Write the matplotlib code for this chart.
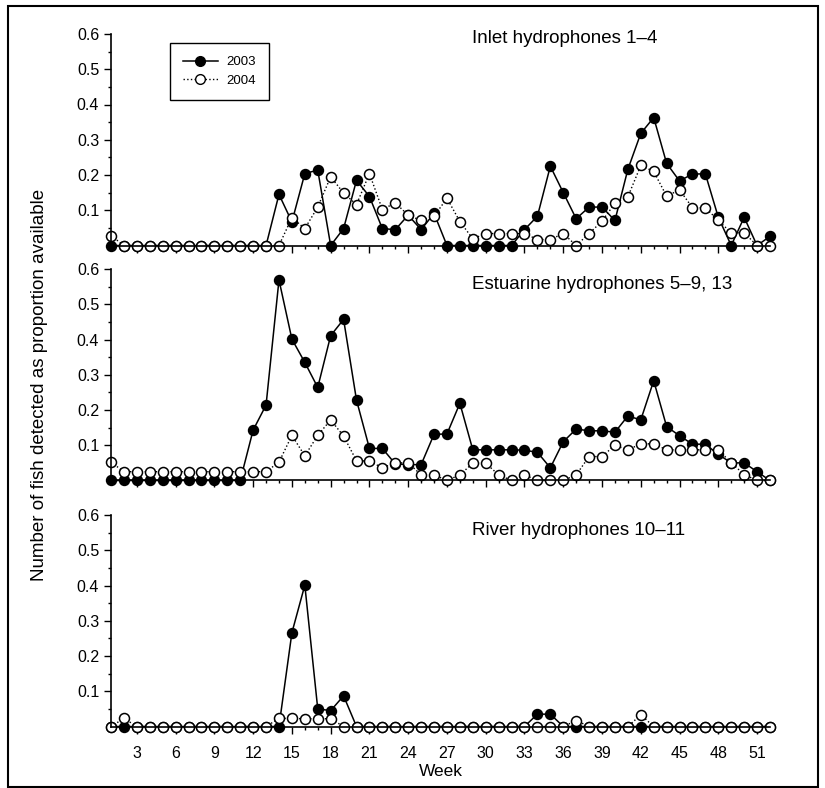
import numpy as np
import matplotlib
matplotlib.use("Agg")
import matplotlib.pyplot as plt
from matplotlib.lines import Line2D
from matplotlib.patches import Rectangle
from matplotlib.ticker import MultipleLocator, FixedLocator

plt.rcParams['font.family'] = ['Liberation Sans', 'DejaVu Sans']

weeks = list(range(1, 53))
xtick_weeks = [3, 6, 9, 12, 15, 18, 21, 24, 27, 30, 33, 36, 39, 42, 45, 48, 51]
yticks = [0.1, 0.2, 0.3, 0.4, 0.5, 0.6]
series_names = ["2003", "2004"]
panel_titles = ["Inlet hydrophones 1\u20134",
                "Estuarine hydrophones 5\u20139, 13",
                "River hydrophones 10\u201311"]

inlet_2003 = [0, 0, 0, 0, 0, 0, 0, 0, 0, 0, 0, 0, 0,
              0.145, 0.067, 0.204, 0.214, 0, 0.048, 0.185, 0.139, 0.048, 0.045,
              0.086, 0.045, 0.091, 0, 0, 0, 0, 0, 0, 0.045, 0.083, 0.225, 0.15,
              0.076, 0.109, 0.109, 0.071, 0.216, 0.318, 0.363, 0.233, 0.183,
              0.203, 0.203, 0.08, 0, 0.08, 0, 0.026]
inlet_2004 = [0.028, 0, 0, 0, 0, 0, 0, 0, 0, 0, 0, 0, 0, 0,
              0.079, 0.048, 0.109, 0.195, 0.149, 0.116, 0.204, 0.102, 0.121,
              0.086, 0.071, 0.083, 0.134, 0.068, 0.019, 0.034, 0.034, 0.034,
              0.034, 0.017, 0.017, 0.034, 0, 0.034, 0.069, 0.12, 0.138, 0.227,
              0.21, 0.14, 0.158, 0.107, 0.107, 0.071, 0.036, 0.036, 0, 0]
estuary_2003 = [0, 0, 0, 0, 0, 0, 0, 0, 0, 0, 0,
                0.143, 0.214, 0.569, 0.401, 0.335, 0.264, 0.411, 0.457, 0.228,
                0.091, 0.091, 0.047, 0.045, 0.045, 0.131, 0.132, 0.219, 0.087,
                0.087, 0.087, 0.087, 0.086, 0.08, 0.036, 0.11, 0.146, 0.141,
                0.141, 0.137, 0.183, 0.172, 0.283, 0.153, 0.127, 0.103, 0.103,
                0.074, 0.05, 0.05, 0.025, 0]
estuary_2004 = [0.052, 0.025, 0.025, 0.025, 0.025, 0.025, 0.025, 0.025, 0.025,
                0.025, 0.025, 0.025, 0.025,
                0.052, 0.128, 0.07, 0.128, 0.172, 0.126, 0.056, 0.055, 0.036,
                0.05, 0.05, 0.016, 0.016, 0, 0.016, 0.049, 0.049, 0.016, 0,
                0.016, 0, 0, 0, 0.016, 0.068, 0.068, 0.1, 0.087, 0.104, 0.104,
                0.087, 0.087, 0.087, 0.087, 0.087, 0.05, 0.017, 0, 0]
river_2003 = [0, 0, 0, 0, 0, 0, 0, 0, 0, 0, 0, 0, 0, 0,
              0.266, 0.401, 0.05, 0.045, 0.087, 0, 0, 0, 0, 0, 0, 0, 0, 0, 0,
              0, 0, 0, 0, 0.035, 0.035, 0, 0, 0, 0, 0, 0, 0, 0, 0, 0, 0, 0, 0,
              0, 0, 0, 0]
river_2004 = [0, 0.023, 0, 0, 0, 0, 0, 0, 0, 0, 0, 0, 0,
              0.023, 0.023, 0.022, 0.022, 0.022, 0, 0, 0, 0, 0, 0, 0, 0, 0, 0,
              0, 0, 0, 0, 0, 0, 0, 0, 0.017, 0, 0, 0, 0, 0.033, 0, 0, 0, 0, 0,
              0, 0, 0, 0, 0]

panels = [(inlet_2003, inlet_2004), (estuary_2003, estuary_2004),
          (river_2003, river_2004)]

W, H = 825, 788
fig = plt.figure(figsize=(W / 100, H / 100), dpi=100)

left_px, right_px = 111, 770
panel_px = [(34, 245.5), (269, 480.5), (515, 726.5)]  # (top of 0.6, zero line)

title_y = [0.586, 0.555, 0.555]
axes = []
for i, ((top, bot), (s03, s04)) in enumerate(zip(panel_px, panels)):
    ax = fig.add_axes([left_px / W, 1 - bot / H, (right_px - left_px) / W,
                       (bot - top) / H])
    axes.append(ax)
    ax.plot(weeks, s03, '-', color='black', lw=1.1, marker='o', ms=7.2,
            mfc='black', mec='black', mew=1.0, clip_on=False, zorder=2)
    ax.plot(weeks, s04, ':', color='black', lw=1.0, marker='o', ms=7.2,
            mfc='white', mec='black', mew=1.1, clip_on=False, zorder=2.1)
    ax.set_xlim(1, 52)
    ax.set_ylim(0, 0.6)
    for s in ['top', 'right']:
        ax.spines[s].set_visible(False)
    for s in ['left', 'bottom']:
        ax.spines[s].set_linewidth(1.2)
        ax.spines[s].set_zorder(3)
    ax.yaxis.set_major_locator(FixedLocator(yticks))
    ax.yaxis.set_minor_locator(MultipleLocator(0.05))
    ax.xaxis.set_major_locator(FixedLocator(xtick_weeks))
    ax.xaxis.set_minor_locator(MultipleLocator(1))
    ax.tick_params(axis='both', which='major', direction='out', length=5,
                   width=1.0, labelsize=11.5, color='black')
    ax.tick_params(axis='both', which='minor', direction='out', length=2.5,
                   width=1.0, color='black')
    ax.tick_params(axis='x', which='major', pad=9)
    ax.set_yticklabels([f"{v:.1f}" for v in yticks])
    if i < 2:
        ax.tick_params(axis='x', labelbottom=False)
    else:
        ax.set_xticklabels([str(w) for w in xtick_weeks])
        ax.set_xlabel("Week", fontsize=12.5, labelpad=2)
    ax.patch.set_alpha(0)
    ax.text(28.9, title_y[i], panel_titles[i], fontsize=13.5, ha='left',
            va='center')

handles = [Line2D([], [], ls='-', color='black', lw=1.1, marker='o', ms=7,
                  mfc='black', mec='black'),
           Line2D([], [], ls=':', color='black', lw=1.0, marker='o', ms=7,
                  mfc='white', mec='black')]
leg = fig.legend(handles, series_names, loc='upper left',
                 bbox_to_anchor=(170 / W, 1 - 43 / H), borderaxespad=0,
                 fancybox=False, edgecolor='black', framealpha=1,
                 fontsize=9.5, numpoints=1, handlelength=2.6,
                 handletextpad=0.7, labelspacing=0.45, borderpad=1.0)
leg.get_frame().set_linewidth(1.0)

fig.text(40 / W, 1 - 385 / H,
         "Number of fish detected as proportion available",
         rotation=90, ha='center', va='center', fontsize=13.5)

fig.patches.append(Rectangle((8 / W, 1 - 787 / H), (818 - 8) / W,
                             (787 - 6) / H, transform=fig.transFigure,
                             fill=False, lw=1.5, edgecolor='black'))

fig.savefig("out.png", dpi=100)
